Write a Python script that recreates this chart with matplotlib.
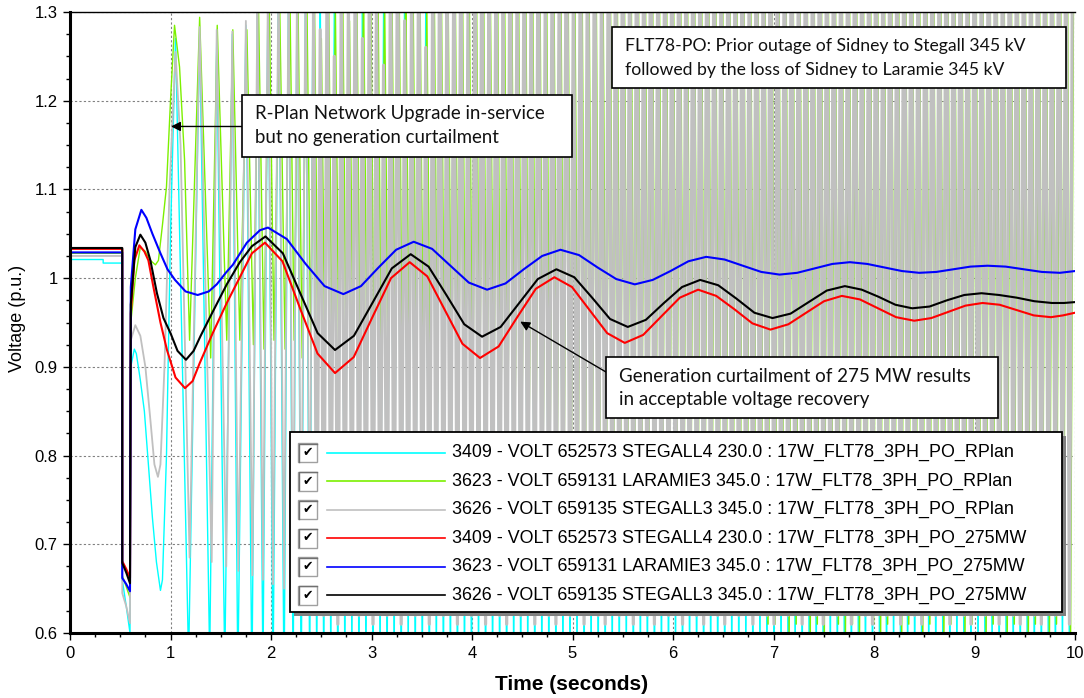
import numpy as np
import matplotlib
matplotlib.use('Agg')
import matplotlib.pyplot as plt
from matplotlib.patches import Rectangle
from matplotlib.lines import Line2D

# ---- series (time in s, voltage in p.u.) ----
# RPlan cases: early swing read point by point, then dense oscillation extremes
cyan_t = [0, 0.33, 0.33, 0.52, 0.52, 0.56, 0.597, 0.605, 0.64, 0.66, 0.70, 0.74, 0.78, 0.82, 0.86,
          0.90, 0.92, 0.96, 1.00, 1.05, 1.18, 1.29, 1.39, 1.46, 1.54, 1.615, 1.67, 1.75, 1.81, 1.865,
          1.92, 1.97, 2.02, 2.075, 2.13, 2.175, 2.22, 2.26, 2.30, 2.345, 2.385]
cyan_v = [1.021, 1.021, 1.017, 1.017, 0.66, 0.63, 0.60, 0.90, 0.92, 0.915, 0.885, 0.85, 0.79, 0.73, 0.68,
          0.648, 0.66, 0.80, 1.05, 1.27, 0.57, 1.275, 0.57, 1.27, 0.56, 1.275, 0.55, 1.285, 0.54, 1.31,
          0.55, 1.33, 0.54, 1.35, 0.53, 1.34, 0.54, 1.36, 0.53, 1.37, 0.54]
cyan_late = [
    1.40, 0.55, 1.33, 0.54, 1.43, 0.56, 1.31, 0.53, 1.38, 0.55,
    1.36, 0.57, 1.45, 0.54, 1.32, 0.55, 1.41, 0.53, 1.37, 0.56,
    1.30, 0.54, 1.42, 0.55, 1.46, 0.53, 1.34, 0.57, 1.39, 0.54,
    1.44, 0.55, 1.31, 0.53, 1.40, 0.56, 1.47, 0.54, 1.36, 0.55,
    1.42, 0.53, 1.48, 0.55, 1.35, 0.54, 1.43, 0.56, 1.49, 0.53,
    1.39, 0.55, 1.45, 0.54, 1.37, 0.53, 1.50, 0.55, 1.41, 0.54,
    1.46, 0.56, 1.43, 0.53, 1.51, 0.55, 1.38, 0.54, 1.47, 0.53,
    1.44, 0.55, 1.52, 0.54, 1.40, 0.56, 1.48, 0.53, 1.45, 0.55,
    1.49, 0.54, 1.42, 0.53, 1.53, 0.55, 1.46, 0.54, 1.50, 0.56,
    1.44, 0.53, 1.51, 0.55, 1.47, 0.54, 1.54, 0.53, 1.43, 0.55,
    1.50, 0.54, 1.48, 0.56, 1.52, 0.53, 1.45, 0.55, 1.51, 0.54,
    1.47, 0.53, 1.54, 0.55, 1.49, 0.54, 1.46, 0.53, 1.53, 0.55,
    1.48, 0.54, 1.51, 0.56, 1.44, 0.53, 1.52, 0.55, 1.49, 0.54,
    1.55, 0.53, 1.47, 0.55, 1.50, 0.54, 1.53, 0.56, 1.46, 0.53,
    1.51, 0.55, 1.48, 0.54, 1.54, 0.53, 1.49, 0.55, 1.52, 0.54,
    1.47, 0.56, 1.50, 0.53, 1.55, 0.55, 1.48, 0.54, 1.51, 0.53,
    1.53, 0.55, 1.46, 0.54, 1.52, 0.56, 1.49, 0.53, 1.54, 0.55,
    1.50, 0.54, 1.47, 0.53, 1.53, 0.55, 1.51, 0.54, 1.48, 0.56,
    1.54, 0.53, 1.49, 0.55, 1.52, 0.54, 1.50, 0.53, 1.55, 0.55,
    1.48, 0.54, 1.53, 0.56, 1.51, 0.53, 1.49, 0.55, 1.54, 0.54,
    1.50, 0.53, 1.52, 0.55, 1.47, 0.54, 1.53, 0.53, 1.51, 0.55,
    1.49, 0.54, 1.54, 0.56, 1.50, 0.53, 1.52,
]

green_t = [0, 0.52, 0.52, 0.56, 0.597, 0.605, 0.65, 0.70, 0.75, 0.80, 0.85, 0.88, 0.92, 0.96, 1.00,
           1.04, 1.09, 1.14, 1.19, 1.29, 1.40, 1.465, 1.56, 1.62, 1.69, 1.76, 1.825, 1.875, 1.93, 1.98,
           2.03, 2.085, 2.14, 2.185, 2.23, 2.27, 2.31, 2.355, 2.395]
green_v = [1.028, 1.028, 0.665, 0.652, 0.64, 0.95, 1.00, 1.035, 1.03, 1.02, 1.015, 1.02, 1.06, 1.103, 1.20,
           1.285, 1.238, 1.133, 0.93, 1.294, 0.91, 1.285, 0.93, 1.28, 0.93, 1.28, 0.925, 1.31, 0.92, 1.33,
           0.93, 1.32, 0.92, 1.35, 0.93, 1.30, 0.91, 1.34, 0.92]
green_late = [
    1.33, 0.92, 1.27, 0.91, 1.35, 0.92, 1.30, 0.90, 1.36, 0.91,
    1.29, 0.91, 1.37, 0.90, 1.32, 0.91, 1.34, 0.89, 1.38, 0.90,
    1.31, 0.88, 1.36, 0.89, 1.39, 0.87, 1.33, 0.88, 1.37, 0.86,
    1.35, 0.87, 1.30, 0.85, 1.38, 0.86, 1.40, 0.84, 1.34, 0.85,
    1.37, 0.83, 1.41, 0.84, 1.36, 0.82, 1.39, 0.83, 1.42, 0.81,
    1.35, 0.82, 1.40, 0.80, 1.38, 0.81, 1.43, 0.79, 1.37, 0.80,
    1.41, 0.78, 1.39, 0.79, 1.44, 0.77, 1.36, 0.78, 1.42, 0.76,
    1.40, 0.77, 1.45, 0.75, 1.38, 0.76, 1.43, 0.74, 1.41, 0.75,
    1.44, 0.73, 1.39, 0.74, 1.46, 0.72, 1.42, 0.73, 1.45, 0.71,
    1.40, 0.72, 1.44, 0.70, 1.43, 0.71, 1.47, 0.69, 1.41, 0.70,
    1.45, 0.68, 1.43, 0.69, 1.46, 0.67, 1.40, 0.68, 1.44, 0.66,
    1.42, 0.67, 1.47, 0.65, 1.44, 0.66, 1.41, 0.64, 1.46, 0.65,
    1.43, 0.63, 1.45, 0.64, 1.40, 0.62, 1.46, 0.63, 1.44, 0.61,
    1.48, 0.61, 1.42, 0.62, 1.45, 0.60, 1.47, 0.61, 1.41, 0.62,
    1.46, 0.60, 1.43, 0.61, 1.48, 0.60, 1.44, 0.62, 1.46, 0.61,
    1.42, 0.60, 1.45, 0.61, 1.49, 0.60, 1.43, 0.62, 1.46, 0.61,
    1.47, 0.60, 1.41, 0.61, 1.46, 0.62, 1.44, 0.60, 1.48, 0.61,
    1.45, 0.62, 1.42, 0.60, 1.47, 0.61, 1.45, 0.62, 1.43, 0.60,
    1.48, 0.61, 1.44, 0.62, 1.46, 0.60, 1.45, 0.61, 1.49, 0.62,
    1.43, 0.60, 1.47, 0.61, 1.46, 0.62, 1.44, 0.60, 1.48, 0.61,
    1.45, 0.62, 1.46, 0.60, 1.42, 0.61, 1.47, 0.62, 1.46, 0.60,
    1.44, 0.61, 1.48, 0.62, 1.45, 0.60, 1.47,
]

gray_t = [0, 0.52, 0.52, 0.56, 0.597, 0.605, 0.65, 0.70, 0.75, 0.80, 0.84, 0.875, 0.90, 0.94, 0.99,
          1.05, 1.10, 1.19, 1.29, 1.41, 1.46, 1.555, 1.615, 1.675, 1.75, 1.815, 1.865, 1.92, 1.97, 2.02,
          2.075, 2.13, 2.175, 2.22, 2.26, 2.30, 2.345, 2.385]
gray_v = [1.025, 1.025, 0.645, 0.63, 0.611, 0.93, 0.947, 0.935, 0.90, 0.84, 0.79, 0.776, 0.79, 0.90, 1.10,
          1.255, 1.15, 0.685, 1.283, 0.68, 1.28, 0.675, 1.278, 0.67, 1.29, 0.665, 1.32, 0.66, 1.34, 0.655,
          1.35, 0.65, 1.34, 0.645, 1.36, 0.64, 1.37, 0.635]
gray_late = [
    1.36, 0.63, 1.28, 0.62, 1.39, 0.64, 1.25, 0.61, 1.34, 0.63,
    1.31, 0.64, 1.41, 0.62, 1.27, 0.63, 1.37, 0.61, 1.33, 0.64,
    1.24, 0.62, 1.38, 0.63, 1.42, 0.61, 1.29, 0.64, 1.35, 0.62,
    1.40, 0.63, 1.26, 0.61, 1.36, 0.64, 1.43, 0.62, 1.32, 0.63,
    1.38, 0.61, 1.44, 0.63, 1.30, 0.62, 1.39, 0.64, 1.45, 0.61,
    1.35, 0.63, 1.41, 0.62, 1.33, 0.61, 1.46, 0.63, 1.37, 0.62,
    1.42, 0.64, 1.39, 0.61, 1.47, 0.63, 1.34, 0.62, 1.43, 0.61,
    1.40, 0.63, 1.48, 0.62, 1.36, 0.64, 1.44, 0.61, 1.41, 0.63,
    1.45, 0.62, 1.38, 0.61, 1.49, 0.63, 1.42, 0.62, 1.46, 0.64,
    1.40, 0.61, 1.47, 0.63, 1.43, 0.62, 1.50, 0.61, 1.39, 0.63,
    1.46, 0.62, 1.44, 0.64, 1.48, 0.61, 1.41, 0.63, 1.47, 0.62,
    1.43, 0.61, 1.50, 0.63, 1.45, 0.62, 1.42, 0.61, 1.49, 0.63,
    1.44, 0.62, 1.47, 0.64, 1.40, 0.61, 1.48, 0.63, 1.45, 0.62,
    1.51, 0.61, 1.43, 0.63, 1.46, 0.62, 1.49, 0.64, 1.42, 0.61,
    1.47, 0.63, 1.44, 0.62, 1.50, 0.61, 1.45, 0.63, 1.48, 0.62,
    1.43, 0.64, 1.46, 0.61, 1.51, 0.63, 1.44, 0.62, 1.47, 0.61,
    1.49, 0.63, 1.42, 0.62, 1.48, 0.64, 1.45, 0.61, 1.50, 0.63,
    1.46, 0.62, 1.43, 0.61, 1.49, 0.63, 1.47, 0.62, 1.44, 0.64,
    1.50, 0.61, 1.45, 0.63, 1.48, 0.62, 1.46, 0.61, 1.51, 0.63,
    1.44, 0.62, 1.49, 0.64, 1.47, 0.61, 1.45, 0.63, 1.50, 0.62,
    1.46, 0.61, 1.48, 0.63, 1.43, 0.62, 1.49, 0.61, 1.47, 0.63,
    1.45, 0.62, 1.50, 0.64, 1.46, 0.61, 1.48,
]
# sample times of the late extremes (STEGALL buses in phase, LARAMIE slightly lagging)
late_start, late_step, laramie_lag = 2.42, 0.035, 0.3

# 275 MW curtailment cases
red_t = [0, 0.52, 0.52, 0.56, 0.597, 0.605, 0.64, 0.69, 0.74, 0.78, 0.83, 0.90, 0.965, 1.05, 1.144,
         1.22, 1.29, 1.42, 1.56, 1.69, 1.81, 1.94, 2.114, 2.289, 2.463, 2.637, 2.823, 3.009, 3.194, 3.38,
         3.555, 3.73, 3.905, 4.08, 4.265, 4.45, 4.635, 4.82, 4.995, 5.17, 5.345, 5.52, 5.703, 5.885,
         6.068, 6.25, 6.43, 6.61, 6.79, 6.97, 7.148, 7.325, 7.503, 7.68, 7.86, 8.04, 8.22, 8.40, 8.57,
         8.74, 8.91, 9.08, 9.25, 9.42, 9.59, 9.76, 9.88, 10.0]
red_v = [1.033, 1.033, 0.681, 0.672, 0.662, 0.96, 1.02, 1.037, 1.03, 1.02, 0.99, 0.95, 0.919, 0.888, 0.876,
         0.884, 0.904, 0.938, 0.972, 1.001, 1.028, 1.040, 1.019, 0.966, 0.915, 0.893, 0.911, 0.956, 1.000,
         1.018, 1.002, 0.964, 0.926, 0.910, 0.923, 0.956, 0.988, 1.001, 0.990, 0.964, 0.938, 0.927, 0.936,
         0.957, 0.978, 0.987, 0.980, 0.965, 0.949, 0.942, 0.948, 0.961, 0.974, 0.980, 0.976, 0.966, 0.956,
         0.952, 0.955, 0.962, 0.969, 0.972, 0.970, 0.964, 0.958, 0.956, 0.958, 0.961]

blue_t = [0, 0.52, 0.52, 0.56, 0.597, 0.605, 0.65, 0.71, 0.76, 0.82, 0.90, 0.97, 1.045, 1.15, 1.27,
          1.38, 1.46, 1.55, 1.62, 1.76, 1.89, 1.97, 2.158, 2.345, 2.533, 2.72, 2.895, 3.07, 3.245, 3.42,
          3.603, 3.785, 3.968, 4.15, 4.333, 4.515, 4.698, 4.88, 5.065, 5.25, 5.435, 5.62, 5.798, 5.975,
          6.153, 6.33, 6.513, 6.695, 6.878, 7.06, 7.235, 7.41, 7.585, 7.76, 7.933, 8.105, 8.278, 8.45,
          8.62, 8.79, 8.96, 9.13, 9.31, 9.49, 9.67, 9.85, 10.0]
blue_v = [1.029, 1.029, 0.662, 0.655, 0.647, 0.99, 1.055, 1.077, 1.068, 1.05, 1.028, 1.01, 0.998, 0.985,
          0.981, 0.985, 0.993, 1.006, 1.015, 1.040, 1.054, 1.057, 1.044, 1.016, 0.991, 0.982, 0.991, 1.012,
          1.032, 1.041, 1.033, 1.014, 0.995, 0.987, 0.994, 1.010, 1.025, 1.032, 1.026, 1.012, 0.999, 0.993,
          0.998, 1.008, 1.019, 1.024, 1.021, 1.014, 1.007, 1.004, 1.006, 1.011, 1.016, 1.018, 1.016, 1.012,
          1.008, 1.006, 1.007, 1.010, 1.013, 1.014, 1.013, 1.010, 1.007, 1.006, 1.008]

black_t = [0, 0.52, 0.52, 0.56, 0.597, 0.605, 0.65, 0.70, 0.75, 0.80, 0.865, 0.93, 1.0, 1.07, 1.154,
           1.23, 1.30, 1.42, 1.56, 1.69, 1.81, 1.945, 2.118, 2.291, 2.464, 2.637, 2.825, 3.014, 3.202,
           3.39, 3.568, 3.745, 3.923, 4.10, 4.285, 4.47, 4.655, 4.84, 5.018, 5.195, 5.373, 5.55, 5.73,
           5.91, 6.09, 6.27, 6.45, 6.63, 6.81, 6.99, 7.17, 7.35, 7.53, 7.71, 7.878, 8.045, 8.213, 8.38,
           8.553, 8.725, 8.898, 9.07, 9.245, 9.42, 9.595, 9.77, 9.89, 10.0]
black_v = [1.034, 1.034, 0.679, 0.668, 0.656, 0.97, 1.035, 1.049, 1.04, 1.02, 0.983, 0.955, 0.938, 0.918,
           0.908, 0.918, 0.935, 0.962, 0.993, 1.018, 1.036, 1.047, 1.028, 0.983, 0.938, 0.919, 0.935, 0.973,
           1.011, 1.027, 1.013, 0.981, 0.948, 0.934, 0.945, 0.972, 0.999, 1.010, 1.001, 0.978, 0.954, 0.945,
           0.953, 0.972, 0.990, 0.998, 0.992, 0.977, 0.961, 0.955, 0.960, 0.973, 0.986, 0.991, 0.987, 0.979,
           0.970, 0.966, 0.968, 0.975, 0.981, 0.983, 0.981, 0.978, 0.974, 0.972, 0.972, 0.973]

labels = [
    '3409 - VOLT 652573 STEGALL4 230.0 : 17W_FLT78_3PH_PO_RPlan',
    '3623 - VOLT 659131 LARAMIE3 345.0 : 17W_FLT78_3PH_PO_RPlan',
    '3626 - VOLT 659135 STEGALL3 345.0 : 17W_FLT78_3PH_PO_RPlan',
    '3409 - VOLT 652573 STEGALL4 230.0 : 17W_FLT78_3PH_PO_275MW',
    '3623 - VOLT 659131 LARAMIE3 345.0 : 17W_FLT78_3PH_PO_275MW',
    '3626 - VOLT 659135 STEGALL3 345.0 : 17W_FLT78_3PH_PO_275MW',
]
colors = ['#00ffff', '#7cf000', '#c0c0c0', '#ff0000', '#0000ff', '#000000']

x_ticks = list(range(0, 11))
y_ticks = [0.6, 0.7, 0.8, 0.9, 1.0, 1.1, 1.2, 1.3]
y_ticklabels = ['0.6', '0.7', '0.8', '0.9', '1', '1.1', '1.2', '1.3']

# ---- figure ----
W, H = 1084, 698
def fx(x):
    return x / W
def fy(y):
    return 1 - y / H

fig = plt.figure(figsize=(W / 100, H / 100), dpi=100)
ax = fig.add_axes([fx(70), fy(633), (1075 - 70) / W, (633 - 12) / H])

k = np.arange(len(gray_late))
t_stegall = late_start + late_step * k
t_laramie = late_start + late_step * (k + laramie_lag)

# (early t, early v, late t, late v, early lw, late lw)
rplan = [
    (cyan_t, cyan_v, t_stegall, cyan_late, 1.0, 1.0),
    (green_t, green_v, t_laramie, green_late, 1.0, 1.1),
    (gray_t, gray_v, t_stegall, gray_late, 1.3, 2.3),
]
for (te, ve, tl, vl, lw_e, lw_l), c in zip(rplan, colors[:3]):
    ax.plot(te + [tl[0]], ve + [vl[0]], color=c, lw=lw_e)
    ax.plot(tl, vl, color=c, lw=lw_l)

for t, v, c in zip([red_t, blue_t, black_t], [red_v, blue_v, black_v], colors[3:]):
    ax.plot(t, v, color=c, lw=1.5)

ax.set_xlim(0, 10)
ax.set_ylim(0.6, 1.3)
ax.set_xticks(x_ticks)
ax.set_yticks(y_ticks)
ax.set_yticklabels(y_ticklabels)
ax.set_xticks(np.arange(0, 10.01, 0.25), minor=True)
ax.set_yticks(np.arange(0.6, 1.301, 0.025), minor=True)
ax.set_axisbelow(True)
ax.grid(True, which='major', color='#808080', linestyle=(0, (2, 2)), linewidth=0.8)
ax.tick_params(which='major', direction='out', length=5, width=1, labelsize=12, pad=4)
ax.tick_params(which='minor', direction='out', length=3, width=1)
for lab in ax.get_xticklabels() + ax.get_yticklabels():
    lab.set_family('Liberation Sans')
ax.spines['left'].set_linewidth(2.2)
ax.spines['bottom'].set_linewidth(2.2)
ax.spines['top'].set_linewidth(1.0)
ax.spines['right'].set_visible(False)

fig.text(fx(572), fy(685), 'Time (seconds)', ha='center', va='center', fontsize=15,
         fontweight='bold', family='Liberation Sans')
fig.text(fx(18), fy(318), 'Voltage (p.u.)', ha='center', va='center', rotation=90,
         fontsize=13, family='Liberation Sans')

# ---- legend panel ----
lx0, ly0, lx1, ly1 = 290, 432, 1062, 612
fig.add_artist(Rectangle((fx(lx0 + 4), fy(ly1 + 4)), (lx1 - lx0) / W, (ly1 - ly0) / H,
                         transform=fig.transFigure, facecolor='#808080', edgecolor='none', zorder=5))
fig.add_artist(Rectangle((fx(lx0), fy(ly1)), (lx1 - lx0) / W, (ly1 - ly0) / H,
                         transform=fig.transFigure, facecolor='white', edgecolor='black', lw=1.3, zorder=6))
row_y = [452.5, 481, 509.5, 538, 566.5, 595]
for yy, lab, c in zip(row_y, labels, colors):
    fig.add_artist(Rectangle((fx(298), fy(yy + 9.5)), 19 / W, 19 / H, transform=fig.transFigure,
                             facecolor='white', edgecolor='#a0a0a0', lw=1.0, zorder=7))
    fig.add_artist(Line2D([fx(298.5), fx(298.5), fx(316.5)], [fy(yy + 9), fy(yy - 9), fy(yy - 9)],
                          transform=fig.transFigure, color='#707070', lw=1.0, zorder=7))
    fig.text(fx(307.5), fy(yy), '\u2714', ha='center', va='center', fontsize=9,
             family='DejaVu Sans', color='black', zorder=8)
    fig.add_artist(Line2D([fx(327), fx(445)], [fy(yy), fy(yy)], transform=fig.transFigure,
                          color=c, lw=1.2, zorder=7))
    fig.text(fx(452), fy(yy), lab, ha='left', va='center', fontsize=12.9,
             family='Liberation Sans', color='black', zorder=8)

# ---- annotation boxes ----
def note_box(x0, y0, x1, y1, lines, tx, ty, size):
    fig.add_artist(Rectangle((fx(x0), fy(y1)), (x1 - x0) / W, (y1 - y0) / H,
                             transform=fig.transFigure, facecolor='white', edgecolor='black',
                             lw=1.2, zorder=6))
    for s, yy in zip(lines, ty):
        fig.text(fx(tx), fy(yy), s, ha='left', va='center', fontsize=size,
                 family='Lato', color='#111111', zorder=8)

note_box(242, 95, 572, 157, ['R-Plan Network Upgrade in-service',
                             'but no generation curtailment'], 255, [114, 138], 13.4)
note_box(612, 27, 1066, 88, ['FLT78-PO: Prior outage of Sidney to Stegall 345 kV',
                             'followed by the loss of Sidney to Laramie 345 kV'], 625, [46, 70], 12.7)
note_box(606, 357, 998, 418, ['Generation curtailment of 275 MW results',
                              'in acceptable voltage recovery'], 619, [376, 400], 13.5)

arrow = dict(arrowstyle='-|>', color='black', lw=1.0, mutation_scale=14, shrinkA=0, shrinkB=0)
ax.annotate('', xy=(1.005, 1.171), xycoords='data', xytext=(fx(242), fy(126.5)),
            textcoords='figure fraction', arrowprops=arrow)
ax.annotate('', xy=(4.48, 0.951), xycoords='data', xytext=(fx(606), fy(372)),
            textcoords='figure fraction', arrowprops=arrow)

fig.savefig('out.png', dpi=100)
